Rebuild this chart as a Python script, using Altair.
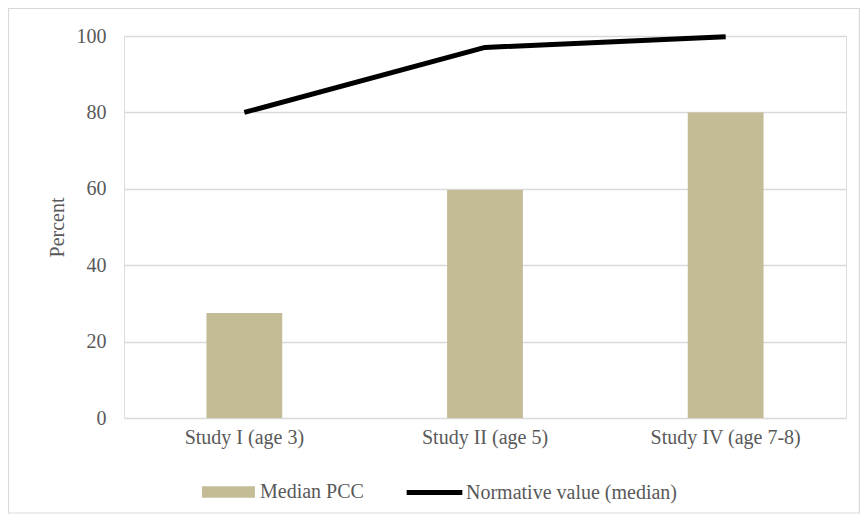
import altair as alt
import pandas as pd

studies = ["Study I (age 3)", "Study II (age 5)", "Study IV (age 7-8)"]
median_pcc = [27.5, 59.7, 80.0]
normative = [80.0, 97.0, 99.8]
series_names = ["Median PCC", "Normative value (median)"]

bars_df = pd.DataFrame({"study": studies, "value": median_pcc, "series": series_names[0]})
line_df = pd.DataFrame({"study": studies, "value": normative, "series": series_names[1]})

FONT = "Liberation Serif"
GRAY = "#595959"
TAN = "#c4bc96"
FS = 20

x_enc = alt.X("study:N", sort=studies, title=None,
              scale=alt.Scale(paddingInner=0.685, paddingOuter=0.3425),
              axis=alt.Axis(labelAngle=0, domain=False, ticks=False, labelPadding=9,
                            labelFont=FONT, labelFontSize=FS, labelColor=GRAY, grid=False))
y_enc = alt.Y("value:Q", title="Percent",
              scale=alt.Scale(domain=[0, 100], nice=False),
              axis=alt.Axis(values=[0, 20, 40, 60, 80, 100], domain=False, ticks=False,
                            labelPadding=18, labelFont=FONT, labelFontSize=FS, labelColor=GRAY,
                            titleFont=FONT, titleFontSize=FS, titleColor=GRAY, titleFontWeight="normal",
                            titlePadding=9, gridColor="#d9d9d9", gridWidth=1.3))

bar_color = alt.Color("series:N",
                      scale=alt.Scale(domain=[series_names[0]], range=[TAN]),
                      legend=alt.Legend(
                          title=None, orient="none", legendX=78, legendY=429.5,
                          labelFont=FONT, labelFontSize=FS, labelColor=GRAY, labelLimit=400,
                          symbolSize=2800, labelOffset=5, symbolStrokeWidth=0,
                          symbolType="M-1,-0.22H1V0.22H-1Z"))
line_stroke = alt.Stroke("series:N",
                         scale=alt.Scale(domain=[series_names[1]], range=["black"]),
                         legend=alt.Legend(
                             title=None, orient="none", legendX=280, legendY=426,
                             labelFont=FONT, labelFontSize=FS, labelColor=GRAY, labelLimit=400,
                             symbolSize=3100, labelOffset=1, symbolStrokeWidth=5,
                             symbolType="stroke"))

bars = alt.Chart(bars_df).mark_bar(opacity=1).encode(x=x_enc, y=y_enc, color=bar_color)
line = alt.Chart(line_df).mark_line(strokeWidth=5, strokeCap="butt", strokeJoin="round", opacity=1).encode(
    x=alt.X("study:N", sort=studies), y="value:Q", stroke=line_stroke)

border = alt.Chart(pd.DataFrame({"a": [0]})).mark_rect(fill=None, stroke="#d9d9d9", strokeWidth=1.2).encode(
    x=alt.value(-115.5), x2=alt.value(735.5), y=alt.value(-27.5), y2=alt.value(477))

chart = alt.layer(bars, line, border).properties(
    width=722, height=382,
    autosize=alt.AutoSizeParams(type="none"),
    padding={"left": 116, "top": 28, "right": 14, "bottom": 96},
).resolve_scale(color="independent", stroke="independent").configure_view(stroke=None).configure(background="white")

chart.save("out.html", embed_options={"renderer": "svg", "actions": False})
